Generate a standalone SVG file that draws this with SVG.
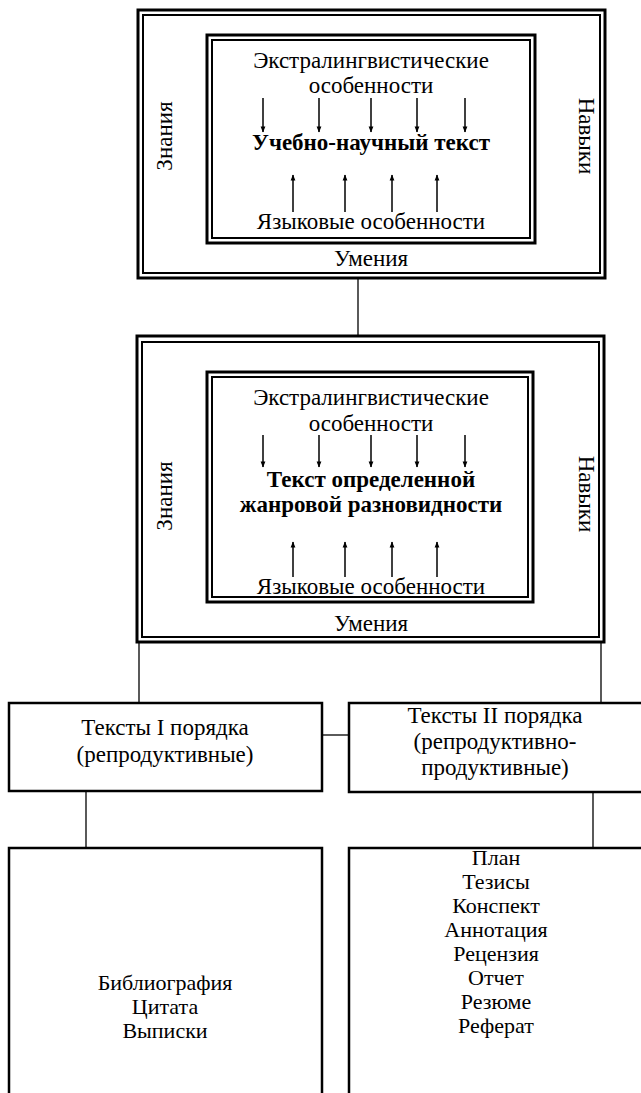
<svg xmlns="http://www.w3.org/2000/svg" width="641" height="1093" viewBox="0 0 641 1093">
<style>
text{font-family:"Liberation Serif","Times New Roman","DejaVu Serif",serif;font-size:23px;fill:#000;text-anchor:middle}
.b{font-weight:bold}
.l{font-size:22px}
.o{fill:none;stroke:#000;stroke-width:3}
.i{fill:none;stroke:#000;stroke-width:2}
.c{fill:none;stroke:#000;stroke-width:1.3}
.a{stroke:#000;stroke-width:1.5;marker-end:url(#ah)}
.bx{fill:none;stroke:#000;stroke-width:2.5}
</style>
<defs>
<marker id="ah" viewBox="0 0 10 10" refX="9" refY="5" markerWidth="8" markerHeight="6" markerUnits="userSpaceOnUse" orient="auto">
<path d="M0,1 L10,5 L0,9 z" fill="#000"/>
</marker>
</defs>
<rect width="641" height="1093" fill="#fff"/>
<g id="connectors">
<line class="c" x1="358" y1="278" x2="358" y2="336"/>
<line class="c" x1="139" y1="642" x2="139" y2="703"/>
<line class="c" x1="601" y1="642" x2="601" y2="703"/>
<line class="c" x1="322" y1="735" x2="349" y2="735"/>
<line class="c" x1="86" y1="791" x2="86" y2="848"/>
<line class="c" x1="593" y1="792" x2="593" y2="848"/>
</g>
<g id="top">
<rect class="o" x="138" y="10" width="467" height="268"/>
<rect class="i" x="143" y="15" width="457" height="258"/>
<rect class="o" x="207" y="35" width="328" height="208"/>
<rect class="i" x="212" y="40" width="318" height="198"/>
<text x="371" y="68">Экстралингвистические</text>
<text x="371" y="93">особенности</text>
<line class="a" x1="263" y1="98" x2="263" y2="132"/>
<line class="a" x1="319" y1="98" x2="319" y2="132"/>
<line class="a" x1="371" y1="98" x2="371" y2="132"/>
<line class="a" x1="417" y1="98" x2="417" y2="132"/>
<line class="a" x1="465" y1="98" x2="465" y2="132"/>
<text class="b" x="371" y="150">Учебно-научный текст</text>
<line class="a" x1="293" y1="212" x2="293" y2="175"/>
<line class="a" x1="345" y1="212" x2="345" y2="175"/>
<line class="a" x1="392" y1="212" x2="392" y2="175"/>
<line class="a" x1="437" y1="212" x2="437" y2="175"/>
<text x="371" y="229">Языковые особенности</text>
<text x="371" y="266">Умения</text>
<text transform="translate(172,136) rotate(-90)">Знания</text>
<text transform="translate(579,136) rotate(90)">Навыки</text>
</g>
<g id="middle">
<rect class="o" x="137" y="336" width="467" height="306"/>
<rect class="i" x="142" y="342" width="457" height="295"/>
<rect class="o" x="207" y="372" width="326" height="230"/>
<rect class="i" x="212" y="377" width="316" height="220"/>
<text x="371" y="405">Экстралингвистические</text>
<text x="371" y="431">особенности</text>
<line class="a" x1="263" y1="435" x2="263" y2="467"/>
<line class="a" x1="319" y1="435" x2="319" y2="467"/>
<line class="a" x1="371" y1="435" x2="371" y2="467"/>
<line class="a" x1="417" y1="435" x2="417" y2="467"/>
<line class="a" x1="465" y1="435" x2="465" y2="467"/>
<text class="b" x="371" y="487">Текст определенной</text>
<text class="b" x="371" y="512">жанровой разновидности</text>
<line class="a" x1="293" y1="577" x2="293" y2="542"/>
<line class="a" x1="345" y1="577" x2="345" y2="542"/>
<line class="a" x1="392" y1="577" x2="392" y2="542"/>
<line class="a" x1="437" y1="577" x2="437" y2="542"/>
<text x="371" y="594">Языковые особенности</text>
<text x="371" y="631">Умения</text>
<text transform="translate(172,496) rotate(-90)">Знания</text>
<text transform="translate(579,494) rotate(90)">Навыки</text>
</g>
<g id="texts1">
<rect class="bx" x="9" y="703" width="313" height="88"/>
<text x="165" y="735">Тексты I порядка</text>
<text x="165" y="762">(репродуктивные)</text>
</g>
<g id="texts2">
<rect class="bx" x="349" y="703" width="300" height="89"/>
<text x="495" y="723">Тексты II порядка</text>
<text x="495" y="749">(репродуктивно-</text>
<text x="495" y="775">продуктивные)</text>
</g>
<g id="list1">
<rect class="bx" x="9" y="848" width="313" height="260"/>
<text class="l" x="165" y="990">Библиография</text>
<text class="l" x="165" y="1014">Цитата</text>
<text class="l" x="165" y="1038">Выписки</text>
</g>
<g id="list2">
<rect class="bx" x="349" y="848" width="300" height="260"/>
<text class="l" x="496" y="865">План</text>
<text class="l" x="496" y="889">Тезисы</text>
<text class="l" x="496" y="913">Конспект</text>
<text class="l" x="496" y="937">Аннотация</text>
<text class="l" x="496" y="961">Рецензия</text>
<text class="l" x="496" y="985">Отчет</text>
<text class="l" x="496" y="1009">Резюме</text>
<text class="l" x="496" y="1033">Реферат</text>
</g>
</svg>
